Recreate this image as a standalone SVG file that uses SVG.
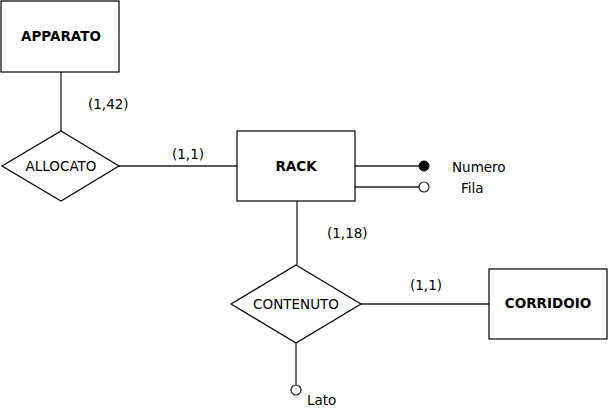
<svg xmlns="http://www.w3.org/2000/svg" width="609" height="419" viewBox="0 0 609 419">
<style>
.ent{fill:#fff;stroke:#000;stroke-width:1.2}
.rel{fill:#fff;stroke:#000;stroke-width:1.2}
.ln{stroke:#222;stroke-width:1.3;fill:none}
.et{font-family:"DejaVu Sans",sans-serif;font-weight:bold;font-size:13.5px;text-anchor:middle;fill:#000}
.rt{font-family:"DejaVu Sans",sans-serif;font-size:13.5px;text-anchor:middle;fill:#000}
.ct{font-family:"DejaVu Sans",sans-serif;font-size:13.5px;fill:#000}
.oc{fill:#fff;stroke:#222;stroke-width:1.2}
.fc{fill:#000;stroke:#000;stroke-width:1}
</style>
<rect width="609" height="419" fill="#fff"/>
<g id="connectors">
<line class="ln" x1="61" y1="72" x2="61" y2="131"/>
<line class="ln" x1="119" y1="166" x2="237" y2="166"/>
<line class="ln" x1="297" y1="201" x2="297" y2="265"/>
<line class="ln" x1="361" y1="304" x2="489" y2="304"/>
<line class="ln" x1="355" y1="166" x2="419" y2="166"/>
<line class="ln" x1="355" y1="187" x2="419" y2="187"/>
<line class="ln" x1="296" y1="343" x2="296" y2="385"/>
<text class="ct" x="88" y="109">(1,42)</text>
<text class="ct" x="172" y="159">(1,1)</text>
<text class="ct" x="327" y="238">(1,18)</text>
<text class="ct" x="410" y="290">(1,1)</text>
</g>
<g id="APPARATO">
<rect class="ent" x="1" y="1" width="118" height="71"/>
<text class="et" x="61" y="41">APPARATO</text>
</g>
<g id="ALLOCATO">
<polygon class="rel" points="61,131 119,166 61,201 2,166"/>
<text class="rt" x="61" y="171">ALLOCATO</text>
</g>
<g id="RACK">
<rect class="ent" x="237" y="131" width="118" height="70"/>
<text class="et" x="296" y="171">RACK</text>
</g>
<g id="CONTENUTO">
<polygon class="rel" points="296,265 361,304 296,343 231,304"/>
<text class="rt" x="296" y="309">CONTENUTO</text>
</g>
<g id="CORRIDOIO">
<rect class="ent" x="489" y="269" width="118" height="70"/>
<text class="et" x="548" y="308">CORRIDOIO</text>
</g>
<g id="Numero">
<circle class="fc" cx="424" cy="166" r="5"/>
<text class="ct" x="452" y="172">Numero</text>
</g>
<g id="Fila">
<circle class="oc" cx="424" cy="187" r="5"/>
<text class="ct" x="461" y="193">Fila</text>
</g>
<g id="Lato">
<circle class="oc" cx="296" cy="390" r="5"/>
<text class="ct" x="307" y="405">Lato</text>
</g>
</svg>
